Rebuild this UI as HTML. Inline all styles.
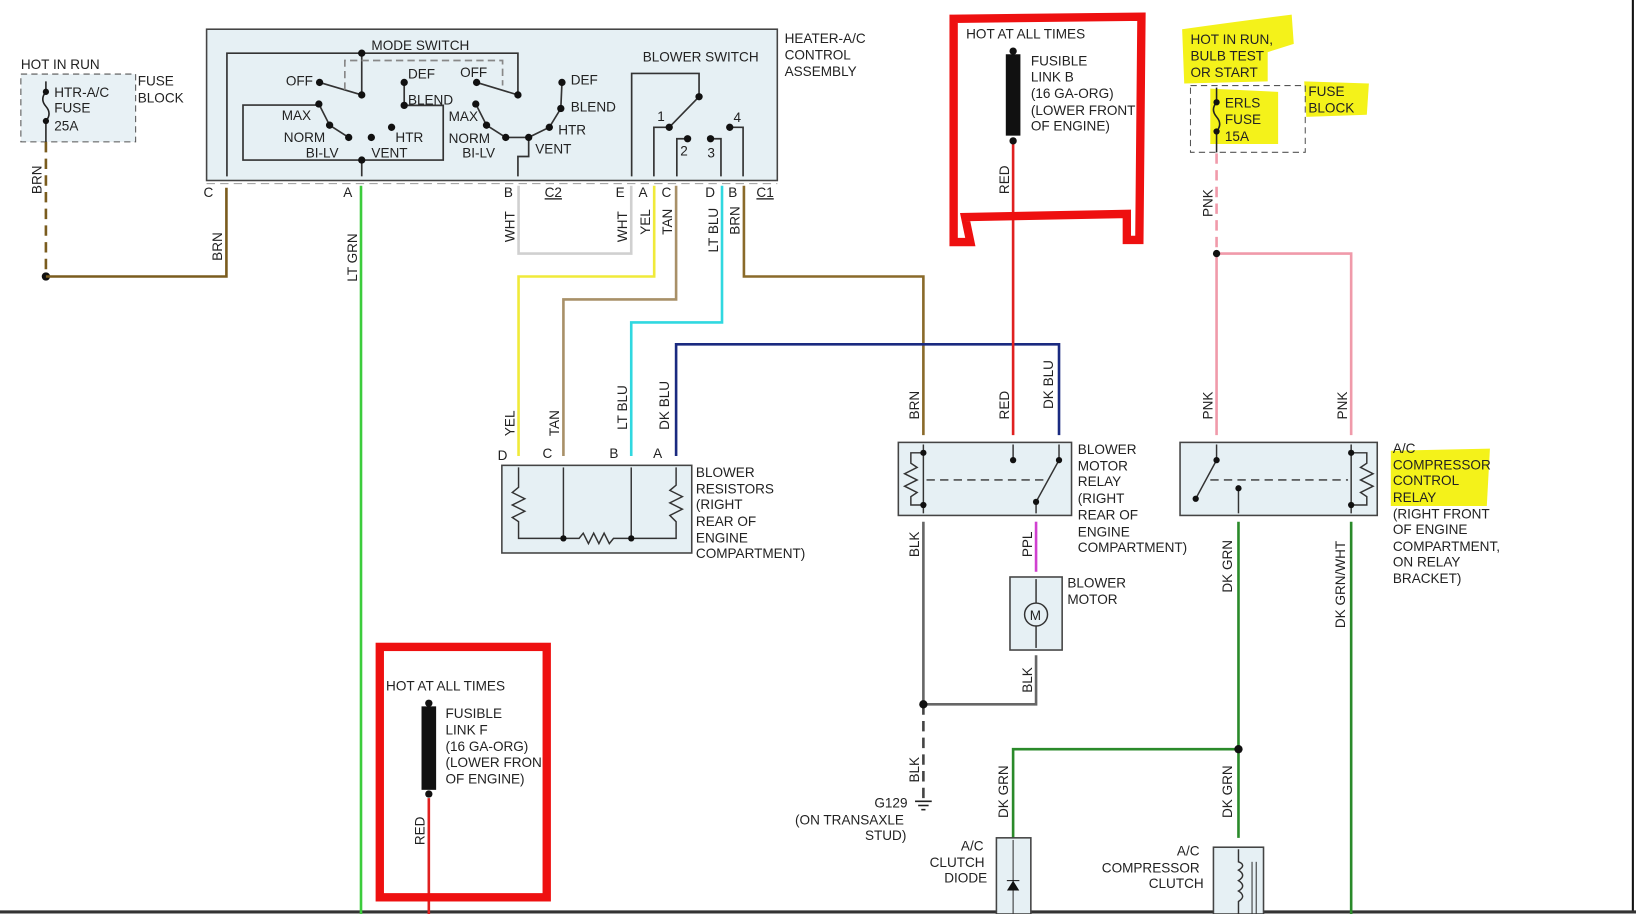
<!DOCTYPE html>
<html><head><meta charset="utf-8"><style>
html,body{margin:0;padding:0;background:#fff;}
svg{display:block;}
text{font-family:"Liberation Sans",sans-serif;font-size:13px;fill:#222;}
</style></head><body>
<svg width="1636" height="914" viewBox="0 0 1568 876" preserveAspectRatio="none" xmlns="http://www.w3.org/2000/svg">
<rect x="0" y="0" width="1568" height="876" fill="#fff"/>
<line x1="1565" y1="0" x2="1565" y2="873" stroke="#111" stroke-width="2"/>
<line x1="0" y1="874" x2="1568" y2="874" stroke="#333" stroke-width="3"/>

<!-- highlights -->
<path d="M1133,28 Q1190,20 1238,14 L1240,42 L1215,50 L1215,78 L1135,80 Z" fill="#f4f21a"/>
<path d="M1160,85 L1225,88 L1225,138 L1160,138 Z" fill="#f4f21a"/>
<path d="M1250,78 L1312,80 L1310,110 L1252,112 Z" fill="#f4f21a"/>
<path d="M1333,432 L1428,430 L1425,485 L1333,485 Z" fill="#f4f21a"/>

<!-- top fuse block -->
<text x="20" y="66">HOT IN RUN</text>
<rect x="20" y="71" width="110" height="65" fill="#e8f1f5" stroke="#555" stroke-dasharray="6,4"/>
<text x="52" y="93">HTR-A/C</text><text x="52" y="108">FUSE</text><text x="52" y="125">25A</text>
<text x="132" y="82">FUSE</text><text x="132" y="98">BLOCK</text>
<path d="M44,78 L44,88 Q38,95 44,102 Q50,109 44,116 L44,136" fill="none" stroke="#222" stroke-width="1.5"/>
<circle cx="44" cy="88" r="3" fill="#111"/><circle cx="44" cy="116" r="3" fill="#111"/>
<line x1="44" y1="136" x2="44" y2="265" stroke="#7a5c1e" stroke-width="2.5" stroke-dasharray="10,6"/>
<text transform="translate(40,186) rotate(-90)">BRN</text>
<circle cx="44" cy="265" r="4" fill="#111"/>
<polyline points="44,265 217,265 217,180" fill="none" stroke="#7a5c1e" stroke-width="2.5"/>
<text transform="translate(213,250) rotate(-90)">BRN</text>

<!-- main control box -->
<rect x="198" y="28" width="547" height="145" fill="#e6f0f4" stroke="#444" stroke-width="1.5"/>
<line x1="198" y1="176" x2="745" y2="176" stroke="#999" stroke-dasharray="8,5"/>
<text x="752" y="41">HEATER-A/C</text><text x="752" y="57">CONTROL</text><text x="752" y="73">ASSEMBLY</text>
<text x="356" y="48">MODE SWITCH</text>
<g fill="none" stroke="#333" stroke-width="1.6">
<polyline points="217.5,169 217.5,51 496.4,51 496.4,91"/>
<line x1="346.7" y1="51" x2="346.7" y2="91"/>
<line x1="346.7" y1="91" x2="306.3" y2="79"/>
<polyline points="330.5,86 330.5,58 481.7,58 481.7,82" stroke="#888" stroke-dasharray="7,4"/>
<polyline points="387.4,79 387.4,101 424.8,101 424.8,153.4 232.9,153.4 232.9,100.7 305.6,100.7"/>
<polyline points="305.6,99.7 315.9,120 334.2,131.7"/>
<line x1="346.7" y1="153.4" x2="346.7" y2="169"/>
<line x1="496.4" y1="91" x2="456.8" y2="79"/>
<polyline points="456,99.7 466.3,120 484.7,131.7 506.7,131.7 526.5,122 537.5,104 538.6,79"/>
<polyline points="506.7,131.7 506.7,150 496.4,150 496.4,169"/>
<polyline points="605.4,169 605.4,70.4 670,70.4 670,92.7 641.4,122"/>
<polyline points="641.4,122 626.7,122 626.7,169"/>
<polyline points="659,133 648.7,133 648.7,169"/>
<polyline points="681,133 691,133 691,169"/>
<polyline points="699.4,122 712.2,122 712.2,169"/>
</g>
<g fill="#111">
<circle cx="346.7" cy="51" r="3.5"/><circle cx="496.4" cy="91" r="3.5"/><circle cx="346.7" cy="91" r="3.5"/>
<circle cx="306.3" cy="79" r="3.5"/><circle cx="387.4" cy="79" r="3.5"/><circle cx="387.4" cy="101" r="3.5"/>
<circle cx="305.6" cy="99.7" r="3.5"/><circle cx="315.9" cy="120" r="3.5"/><circle cx="334.2" cy="131.7" r="3.5"/>
<circle cx="355.9" cy="131.7" r="3.5"/><circle cx="375.3" cy="122" r="3.5"/><circle cx="346.7" cy="153.4" r="3.5"/>
<circle cx="456.8" cy="79" r="3.5"/><circle cx="538.6" cy="79" r="3.5"/><circle cx="537.5" cy="104" r="3.5"/>
<circle cx="526.5" cy="122" r="3.5"/><circle cx="506.7" cy="131.7" r="3.5"/><circle cx="484.7" cy="131.7" r="3.5"/>
<circle cx="456" cy="99.7" r="3.5"/><circle cx="466.3" cy="120" r="3.5"/>
<circle cx="670" cy="92.7" r="3.5"/><circle cx="641.4" cy="122" r="3.5"/><circle cx="659" cy="133" r="3.5"/>
<circle cx="681" cy="133" r="3.5"/><circle cx="699.4" cy="122" r="3.5"/>
</g>
<text x="274" y="82">OFF</text><text x="391" y="75">DEF</text><text x="391" y="100">BLEND</text>
<text x="270" y="115">MAX</text><text x="272" y="136">NORM</text><text x="293" y="151">BI-LV</text>
<text x="356" y="151">VENT</text><text x="379" y="136">HTR</text>
<text x="441" y="74">OFF</text><text x="547" y="81">DEF</text><text x="547" y="107">BLEND</text>
<text x="535" y="129">HTR</text><text x="513" y="147">VENT</text>
<text x="430" y="116">MAX</text><text x="430" y="137">NORM</text><text x="443" y="151">BI-LV</text>
<text x="616" y="59">BLOWER SWITCH</text>
<text x="630" y="116">1</text><text x="652" y="149">2</text><text x="678" y="151">3</text><text x="703" y="117">4</text>
<g font-size="12">
<text x="195" y="189">C</text><text x="329" y="189">A</text><text x="483" y="189">B</text>
<text x="522" y="189" text-decoration="underline">C2</text>
<text x="590" y="189">E</text><text x="612" y="189">A</text><text x="634" y="189">C</text>
<text x="676" y="189">D</text><text x="698" y="189">B</text>
<text x="725" y="189" text-decoration="underline">C1</text>
</g>

<!-- wires -->
<g fill="none" stroke-width="2.5">
<line x1="346" y1="178" x2="346" y2="876" stroke="#3ccc3c"/>
<polyline points="497,178 497,243 605,243 605,178" stroke="#d0d0d0"/>
<polyline points="627,178 627,265 497,265 497,437" stroke="#f0ea3a"/>
<polyline points="648,178 648,287 540,287 540,437" stroke="#a89068"/>
<polyline points="692,178 692,309 605,309 605,437" stroke="#30d8e0"/>
<polyline points="713,178 713,265 885,265 885,417" stroke="#8a6a2a"/>
<polyline points="648,437 648,330 1015,330 1015,417" stroke="#1a2a80"/>
<line x1="971" y1="135" x2="971" y2="417" stroke="#e02020"/>
<line x1="1166" y1="147" x2="1166" y2="243" stroke="#f09aaa" stroke-dasharray="10,6"/>
<polyline points="1166,243 1166,417" stroke="#f09aaa"/>
<polyline points="1166,243 1295,243 1295,417" stroke="#f09aaa"/>
<line x1="885" y1="500" x2="885" y2="675" stroke="#666"/>
<line x1="885" y1="675" x2="885" y2="765" stroke="#444" stroke-dasharray="10,6"/>
<polyline points="885,675 993,675 993,628" stroke="#666"/>
<line x1="993" y1="500" x2="993" y2="548" stroke="#d040d0"/>
<line x1="1187" y1="500" x2="1187" y2="803" stroke="#2a8a2a"/>
<polyline points="1187,718 971,718 971,803" stroke="#2a8a2a"/>
<line x1="1295" y1="500" x2="1295" y2="876" stroke="#2a8a2a"/>
<line x1="411" y1="765" x2="411" y2="876" stroke="#e02020"/>
</g>
<circle cx="1166" cy="243" r="3.5" fill="#111"/><circle cx="885" cy="675" r="4" fill="#111"/><circle cx="1187" cy="718" r="4" fill="#111"/>
<g font-size="12">
<text transform="translate(342,270) rotate(-90)">LT GRN</text>
<text transform="translate(493,232) rotate(-90)">WHT</text>
<text transform="translate(601,232) rotate(-90)">WHT</text>
<text transform="translate(623,225) rotate(-90)">YEL</text>
<text transform="translate(644,225) rotate(-90)">TAN</text>
<text transform="translate(688,242) rotate(-90)">LT BLU</text>
<text transform="translate(709,225) rotate(-90)">BRN</text>
<text transform="translate(493,418) rotate(-90)">YEL</text>
<text transform="translate(536,418) rotate(-90)">TAN</text>
<text transform="translate(601,412) rotate(-90)">LT BLU</text>
<text transform="translate(641,412) rotate(-90)">DK BLU</text>
<text transform="translate(881,402) rotate(-90)">BRN</text>
<text transform="translate(967,402) rotate(-90)">RED</text>
<text transform="translate(1009,392) rotate(-90)">DK BLU</text>
<text transform="translate(967,186) rotate(-90)">RED</text>
<text transform="translate(1162,208) rotate(-90)">PNK</text>
<text transform="translate(1162,402) rotate(-90)">PNK</text>
<text transform="translate(1291,402) rotate(-90)">PNK</text>
<text transform="translate(881,534) rotate(-90)">BLK</text>
<text transform="translate(989,534) rotate(-90)">PPL</text>
<text transform="translate(989,664) rotate(-90)">BLK</text>
<text transform="translate(881,750) rotate(-90)">BLK</text>
<text transform="translate(1181,568) rotate(-90)">DK GRN</text>
<text transform="translate(1289,602) rotate(-90)">DK GRN/WHT</text>
<text transform="translate(966,784) rotate(-90)">DK GRN</text>
<text transform="translate(1181,784) rotate(-90)">DK GRN</text>
<text transform="translate(407,810) rotate(-90)">RED</text>
</g>

<!-- blower resistors -->
<rect x="481" y="446" width="182" height="84" fill="#e6f0f4" stroke="#444" stroke-width="1.5"/>
<g fill="none" stroke="#333" stroke-width="1.4">
<polyline points="497,448 497,467 491,472 503,478 491,484 503,490 491,496 497,500 497,516 540,516"/>
<line x1="540" y1="448" x2="540" y2="516"/>
<polyline points="540,516 555,516 559,511 564,521 569,511 574,521 579,511 584,521 588,516 605,516"/>
<line x1="605" y1="448" x2="605" y2="516"/>
<polyline points="605,516 648,516 648,500 642,494 654,488 642,482 654,476 642,470 648,465 648,448"/>
</g>
<circle cx="540" cy="516" r="3" fill="#111"/><circle cx="605" cy="516" r="3" fill="#111"/>
<g font-size="12"><text x="477" y="441">D</text><text x="520" y="439">C</text><text x="584" y="439">B</text><text x="626" y="439">A</text></g>
<text x="667" y="457">BLOWER</text><text x="667" y="473">RESISTORS</text><text x="667" y="488">(RIGHT</text>
<text x="667" y="504">REAR OF</text><text x="667" y="520">ENGINE</text><text x="667" y="535">COMPARTMENT)</text>

<!-- blower motor relay -->
<rect x="861" y="424" width="166" height="70" fill="#e6f0f4" stroke="#444" stroke-width="1.5"/>
<g fill="none" stroke="#333" stroke-width="1.4">
<line x1="885" y1="426" x2="885" y2="492"/>
<polyline points="885,434 873,434 873,444 879,448 867,454 879,460 867,466 879,472 873,476 873,484 885,484"/>
<line x1="971" y1="426" x2="971" y2="441"/>
<line x1="1015" y1="426" x2="1015" y2="441"/>
<line x1="1015" y1="441" x2="993" y2="481"/>
<line x1="993" y1="481" x2="993" y2="492"/>
<line x1="888" y1="460" x2="1005" y2="460" stroke-dasharray="8,5"/>
</g>
<g fill="#111"><circle cx="885" cy="434" r="3"/><circle cx="885" cy="484" r="3"/><circle cx="971" cy="441" r="3"/><circle cx="1015" cy="441" r="3"/><circle cx="993" cy="481" r="3"/></g>
<text x="1033" y="435">BLOWER</text><text x="1033" y="451">MOTOR</text><text x="1033" y="466">RELAY</text>
<text x="1033" y="482">(RIGHT</text><text x="1033" y="498">REAR OF</text><text x="1033" y="514">ENGINE</text><text x="1033" y="529">COMPARTMENT)</text>

<!-- blower motor -->
<rect x="968" y="553" width="50" height="70" fill="#e6f0f4" stroke="#444" stroke-width="1.5"/>
<line x1="993" y1="555" x2="993" y2="621" stroke="#333" stroke-width="1.4"/>
<circle cx="993" cy="589" r="11" fill="#e6f0f4" stroke="#333" stroke-width="1.4"/>
<text x="987" y="594">M</text>
<text x="1023" y="563">BLOWER</text><text x="1023" y="579">MOTOR</text>

<!-- AC relay -->
<rect x="1131" y="424" width="189" height="70" fill="#e6f0f4" stroke="#444" stroke-width="1.5"/>
<g fill="none" stroke="#333" stroke-width="1.4">
<line x1="1166" y1="426" x2="1166" y2="441"/>
<line x1="1166" y1="441" x2="1146" y2="478"/>
<line x1="1187" y1="468" x2="1187" y2="492"/>
<line x1="1295" y1="426" x2="1295" y2="492"/>
<polyline points="1295,434 1310,434 1310,444 1304,448 1316,454 1304,460 1316,466 1304,472 1310,476 1310,484 1295,484"/>
<line x1="1160" y1="460" x2="1292" y2="460" stroke-dasharray="8,5"/>
</g>
<g fill="#111"><circle cx="1166" cy="441" r="3"/><circle cx="1146" cy="478" r="3"/><circle cx="1187" cy="468" r="3"/><circle cx="1295" cy="434" r="3"/><circle cx="1295" cy="484" r="3"/></g>
<text x="1335" y="434">A/C</text><text x="1335" y="450">COMPRESSOR</text><text x="1335" y="465">CONTROL</text>
<text x="1335" y="481">RELAY</text><text x="1335" y="497">(RIGHT FRONT</text><text x="1335" y="512">OF ENGINE</text>
<text x="1335" y="528">COMPARTMENT,</text><text x="1335" y="543">ON RELAY</text><text x="1335" y="559">BRACKET)</text>

<!-- top right fuse -->
<text x="1141" y="42">HOT IN RUN,</text><text x="1141" y="58">BULB TEST</text><text x="1141" y="74">OR START</text>
<rect x="1141" y="82" width="110" height="64" fill="none" stroke="#555" stroke-dasharray="6,4"/>
<path d="M1166,84 L1166,98 Q1160,105 1166,112 Q1172,119 1166,126 L1166,146" fill="none" stroke="#222" stroke-width="1.5"/>
<circle cx="1166" cy="98" r="3" fill="#111"/><circle cx="1166" cy="126" r="3" fill="#111"/>
<text x="1174" y="103">ERLS</text><text x="1174" y="119">FUSE</text><text x="1174" y="135">15A</text>
<text x="1254" y="92">FUSE</text><text x="1254" y="108">BLOCK</text>

<!-- fusible link B -->
<text x="926" y="37">HOT AT ALL TIMES</text>
<rect x="964" y="52" width="14" height="78" fill="#111"/>
<circle cx="971" cy="49" r="3.5" fill="#111"/><circle cx="971" cy="135" r="3.5" fill="#111"/>
<text x="988" y="63">FUSIBLE</text><text x="988" y="78">LINK B</text><text x="988" y="94">(16 GA-ORG)</text>
<text x="988" y="110">(LOWER FRONT</text><text x="988" y="125">OF ENGINE)</text>
<path d="M914,18 L1094,16 L1092,230 L1080,230 L1080,205 L925,208 L930,232 L914,232 Z" fill="none" stroke="#ee1010" stroke-width="8"/>

<!-- fusible link F -->
<text x="370" y="662">HOT AT ALL TIMES</text>
<rect x="404" y="677" width="14" height="80" fill="#111"/>
<circle cx="411" cy="674" r="3.5" fill="#111"/><circle cx="411" cy="761" r="3.5" fill="#111"/>
<text x="427" y="688">FUSIBLE</text><text x="427" y="704">LINK F</text><text x="427" y="720">(16 GA-ORG)</text>
<text x="427" y="735">(LOWER FRON</text><text x="427" y="751">OF ENGINE)</text>
<rect x="364" y="620" width="160" height="240" fill="none" stroke="#ee1010" stroke-width="8"/>

<!-- ground -->
<g stroke="#222" stroke-width="1.5"><line x1="877" y1="768" x2="893" y2="768"/><line x1="880" y1="772" x2="890" y2="772"/><line x1="883" y1="776" x2="887" y2="776"/></g>
<text x="838" y="774">G129</text><text x="762" y="790">(ON TRANSAXLE</text><text x="829" y="805">STUD)</text>

<!-- diode & clutch -->
<rect x="955" y="803" width="33" height="73" fill="#e6f0f4" stroke="#444" stroke-width="1.5"/>
<line x1="971" y1="805" x2="971" y2="876" stroke="#333"/>
<path d="M966,853 L976,853 L971,845 Z M965,844 L977,844" fill="#111" stroke="#111"/>
<text x="921" y="815">A/C</text><text x="891" y="831">CLUTCH</text><text x="905" y="846">DIODE</text>
<rect x="1163" y="812" width="48" height="64" fill="#e6f0f4" stroke="#444" stroke-width="1.5"/>
<path d="M1187,814 L1187,826 Q1195,829 1187,834 Q1195,839 1187,844 Q1195,849 1187,854 Q1195,859 1187,864 L1187,876" fill="none" stroke="#333" stroke-width="1.4"/>
<line x1="1200" y1="826" x2="1200" y2="876" stroke="#333"/><line x1="1204" y1="826" x2="1204" y2="876" stroke="#333"/>
<text x="1128" y="820">A/C</text><text x="1056" y="836">COMPRESSOR</text><text x="1101" y="851">CLUTCH</text>
</svg>
</body></html>
